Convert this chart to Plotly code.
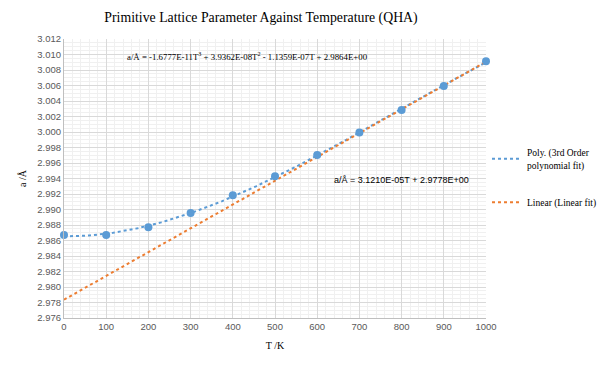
import numpy as np
import plotly.graph_objects as go

# Data
temperature_K = [0, 100, 200, 300, 400, 500, 600, 700, 800, 900, 1000]
lattice_a = [2.9867, 2.9867, 2.9877, 2.98955, 2.99183, 2.99428, 2.99703,
             2.99992, 3.00284, 3.00594, 3.00912]

poly_label = "Poly. (3rd Order<br>polynomial fit)"
linear_label = "Linear (Linear fit)"
poly_eq = "a/Å = -1.6777E-11T<sup>3</sup> + 3.9362E-08T<sup>2</sup> - 1.1359E-07T + 2.9864E+00"
linear_eq = "a/Å = 3.1210E-05T + 2.9778E+00"
title_text = "Primitive Lattice Parameter Against Temperature (QHA)"

T = np.array(temperature_K, dtype=float)
A = np.array(lattice_a)

# Trendlines fitted from the data (as the spreadsheet does)
pc = np.polyfit(T, A, 3)
hi = T >= 700
lc = np.polyfit(T[hi], A[hi], 1)
tt = np.linspace(0, 1000, 201)

blue = "#5B9BD5"
orange = "#ED7D31"
serif = "Liberation Serif, Times New Roman, serif"
sans = "Liberation Sans, Arial, sans-serif"

W, H = 593, 351  # page body has an 8px margin

fig = go.Figure()
fig.add_trace(go.Scatter(x=tt, y=np.polyval(pc, tt), mode="lines", name=poly_label,
                         line=dict(color=blue, width=2, dash="dot"), legendgroup="p"))
fig.add_trace(go.Scatter(x=tt, y=np.polyval(lc, tt), mode="lines", name=linear_label,
                         line=dict(color=orange, width=2, dash="dot"), legendgroup="l"))
fig.add_trace(go.Scatter(x=temperature_K, y=lattice_a, mode="markers", showlegend=False,
                         marker=dict(color=blue, size=8), cliponaxis=False))

fig.add_annotation(x=0.436, y=3.0097, xref="x domain", yref="y", text=poly_eq, showarrow=False,
                   font=dict(family=serif, size=8.8, color="#000000"))
fig.add_annotation(x=800, y=2.9938, xref="x", yref="y", text=linear_eq, showarrow=False,
                   font=dict(family=sans, size=9, color="#000000"))

fig.update_layout(
    width=W, height=H,
    margin=dict(l=56, r=W - 56 - 422, t=31, b=H - 31 - 279, autoexpand=False),
    paper_bgcolor="white", plot_bgcolor="white",
    title=dict(text=title_text, x=253 / W, xref="container", xanchor="center",
               y=1 - 9 / H, yref="container", yanchor="middle",
               font=dict(family=serif, size=13.8, color="#000000")),
    legend=dict(x=479 / W, y=0.624, xref="container", yref="container",
                xanchor="left", yanchor="top", itemwidth=30,
                tracegroupgap=20, font=dict(family=serif, size=9.5, color="#000000"),
                bgcolor="rgba(0,0,0,0)"),
    xaxis=dict(range=[0, 1000], dtick=100, tick0=0, showgrid=True, gridcolor="#D9D9D9",
               gridwidth=1, zeroline=False, showline=True, linecolor="#BFBFBF", linewidth=1,
               ticks="", automargin=False, tickfont=dict(family=sans, size=9.5, color="#595959"),
               minor=dict(dtick=20, showgrid=True, gridcolor="#F0F0F0", gridwidth=1),
               title=dict(text="T /K", font=dict(family=serif, size=10, color="#000000"), standoff=10)),
    yaxis=dict(range=[2.976, 3.012], dtick=0.002, tick0=2.976, tickformat=".3f", showgrid=True,
               gridcolor="#D9D9D9", gridwidth=1, zeroline=False, showline=True,
               linecolor="#BFBFBF", linewidth=1, ticks="", automargin=False,
               tickfont=dict(family=sans, size=9.5, color="#595959"),
               minor=dict(dtick=0.0005, showgrid=True, gridcolor="#F0F0F0", gridwidth=1),
               title=dict(text="a /Å", font=dict(family=serif, size=10, color="#000000"), standoff=8)),
)

fig.write_html("out.html")
